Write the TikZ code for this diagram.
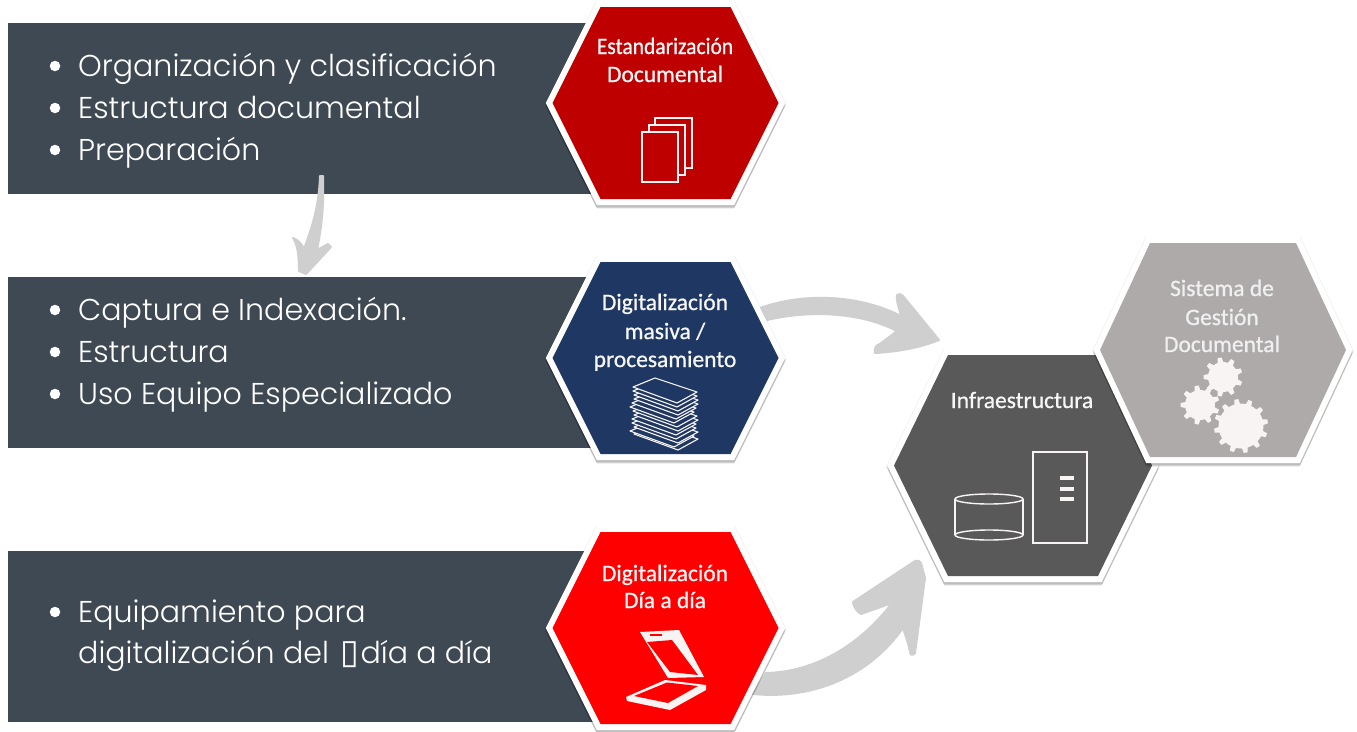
\documentclass[tikz,border=0pt]{standalone}
\usepackage{fontspec}
\setmainfont{Carlito}[Ligatures=NoCommon]
\newfontfamily\hexfont{Carlito}[FakeBold=0.8,Ligatures=NoCommon]
\newfontfamily\listfont{Poppins Light}
\newfontfamily\symfont{DejaVu Sans}
\usetikzlibrary{calc}
\definecolor{slate}{HTML}{3F4954}
\definecolor{arrowgray}{HTML}{CFCFCF}
\definecolor{darkred}{HTML}{BF0000}
\definecolor{navy}{HTML}{1F3763}
\definecolor{purered}{HTML}{FF0000}
\definecolor{coal}{HTML}{595959}
\definecolor{stone}{HTML}{AEAAAA}
\definecolor{iconwhite}{HTML}{F8F4F4}
\tikzset{
  x=1pt,y=-1pt,
  panel/.style={fill=slate,draw=none},
  listtext/.style={anchor=base west,inner sep=0pt,text=white,font=\listfont\fontsize{30.1}{31}\selectfont},
  bulletdot/.style={circle,fill=white,draw=none,inner sep=0pt,minimum size=10.5pt},
  hexlabel/.style={anchor=base,inner sep=0pt,text=white!94!gray,font=\hexfont\fontsize{23.5}{26}\selectfont},
  bigarrow/.style={fill=arrowgray,draw=arrowgray,line width=2pt,line join=round},
  icon/.style={draw=iconwhite,line width=1.4pt,line join=miter},
}
% #1 name, #2 cx, #3 cy, #4 half width, #5 half top width, #6 half height, #7 colour
\newcommand{\hexagon}[7]{%
  \coordinate (#1) at (#2,#3);
  \def\hexpath{($(#1)+(-#4,0)$) -- ($(#1)+(-#5,-#6)$) -- ($(#1)+(#5,-#6)$) -- ($(#1)+(#4,0)$) -- ($(#1)+(#5,#6)$) -- ($(#1)+(-#5,#6)$) -- cycle}
  \foreach \o/\w in {1/14,2/13,3/12,4/11}{
    \draw[black,opacity=.07,line width=\w pt,line join=miter,transform canvas={yshift=-\o pt}] \hexpath;
  }
  \draw[white,line width=12pt,line join=miter] \hexpath;
  \fill[#7] \hexpath;
}
\newcommand{\gearshape}[4]{% cx cy r teeth
  \fill[iconwhite] (#1,#2) circle[radius=#3];
  \foreach \k in {1,...,#4}{
    \pgfmathsetmacro{\ang}{360*\k/#4+10}
    \fill[iconwhite,rotate around={\ang:(#1,#2)},line join=round] ($(#1,#2)+(-3,-#3+1)$) -- ($(#1,#2)+(-2,-#3-4.5)$) -- ($(#1,#2)+(2,-#3-4.5)$) -- ($(#1,#2)+(3,-#3+1)$) -- cycle;
  }
}
\begin{document}
\begin{tikzpicture}
\useasboundingbox (0,0) rectangle (1357,731);
\fill[white] (0,0) rectangle (1357,731);

% panels
\fill[panel] (8,23) rectangle (600,194);
\fill[panel] (8,277) rectangle (600,448);
\fill[panel] (8,551) rectangle (600,722);

% list text
\node[bulletdot] (b1) at (55,66) {};
\node[listtext] (t1) at (78,76) {Organización y clasificación};
\node[bulletdot] (b2) at (55,108) {};
\node[listtext] (t2) at (78,118) {Estructura documental};
\node[bulletdot] (b3) at (55,150) {};
\node[listtext] (t3) at (78,160) {Preparación};
\node[bulletdot] (b4) at (55,310) {};
\node[listtext] (t4) at (78,320) {Captura e Indexación.};
\node[bulletdot] (b5) at (55,352) {};
\node[listtext] (t5) at (78,362) {Estructura};
\node[bulletdot] (b6) at (55,394) {};
\node[listtext] (t6) at (78,404) {Uso Equipo Especializado};
\node[bulletdot] (b7) at (55,612) {};
\node[listtext] (t7) at (78,622) {Equipamiento para};
\node[listtext] (t8) at (78,663) {digitalización del\hspace{12pt}{\symfont\fontsize{34}{34}\selectfont ▯}\hspace{1pt}día a día};

% arrows
\coordinate (a3s) at (321.5,176);
\coordinate (a3t) at (306,274);
\fill[bigarrow] (320,176) -- (323,176) .. controls (324,205) and (322,225) .. (317,250)
  -- (328,244) -- (331,247) -- (a3t) -- (299,271)
  .. controls (299,258) and (298,245) .. (293,238)
  .. controls (298,240) and (302,244) .. (304,249)
  .. controls (313,225) and (319,205) .. (320,176) -- cycle;

\coordinate (a1s) at (762,313);
\coordinate (a1t) at (939,340);
\fill[bigarrow] (760,308) .. controls (805,292) and (860,295) .. (901,316)
  .. controls (899,308) and (896,300) .. (897,295)
  .. controls (899,293) and (901,294) .. (903,296)
  -- (a1t) .. controls (920,348) and (895,352) .. (875,353)
  .. controls (874,348) and (876,345) .. (880,344)
  -- (897,331) .. controls (860,312) and (810,310) .. (767,320) -- cycle;

\coordinate (a2s) at (760,684);
\coordinate (a2t) at (925,578);
\fill[bigarrow] (766,673) .. controls (815,672) and (860,645) .. (892,603)
  -- (861,614) .. controls (857,612) and (853,606) .. (853,602)
  -- (915,561) .. controls (918,560) and (920,561) .. (921,563)
  -- (a2t) -- (915,653) .. controls (913,656) and (910,655) .. (910,652)
  .. controls (908,642) and (905,634) .. (903,628)
  .. controls (870,675) and (815,700) .. (753,694) -- cycle;

% hexagons
\hexagon{hexinfra}{1023}{465.5}{129}{75}{110.5}{coal}
\hexagon{hexsgd}{1223}{350}{123}{73}{107}{stone}
\hexagon{hexest}{665.5}{103}{113}{65}{96}{darkred}
\hexagon{hexmas}{665.5}{358}{113}{65}{96}{navy}
\hexagon{hexdia}{665.5}{628}{113}{65}{96}{purered}

% hexagon labels
\node[hexlabel] (l1) at (665,54) {\scalebox{.915}[1]{Estandarización}};
\node[hexlabel] (l2) at (665,82) {Documental};
\node[hexlabel] (l3) at (665,310) {Digitalización};
\node[hexlabel] (l4) at (665,339) {masiva /};
\node[hexlabel] (l5) at (665,367) {procesamiento};
\node[hexlabel] (l6) at (665,581) {Digitalización};
\node[hexlabel] (l7) at (665,608) {Día a día};
\node[hexlabel] (l8) at (1022,408) {Infraestructura};
\node[hexlabel,text=white!88!gray] (l9) at (1222,296) {Sistema de};
\node[hexlabel,text=white!88!gray] (l10) at (1222,325) {Gestión};
\node[hexlabel,text=white!88!gray] (l11) at (1222,352) {Documental};

% document icon
\draw[icon,fill=darkred] (655,118) rectangle (692,168);
\draw[icon,fill=darkred] (649,125) rectangle (685,175);
\draw[icon,fill=darkred] (642,132) rectangle (678,182);

% paper stack icon
\foreach \dx/\dy in {1/47,-3/44,1/40,-1/36,-1/32,1/28,0/24,-3/20,-1/16,1/12,1/8,0/4,0/0}{
  \draw[draw=iconwhite,line width=1.1pt,fill=navy,line join=round,shift={(\dx,\dy)}]
    (633,387) -- (655,378) -- (697,392) -- (677,403) -- cycle;
}

% scanner icon
\fill[iconwhite] (640,632) -- (679,630) -- (704,677) -- (668,678) -- cycle;
\fill[purered] (647,642) -- (672,640) -- (698,675) -- (670,672) -- cycle;
\fill[purered] (650,634) -- (662,634) -- (662,636) -- (650,636) -- cycle;
\fill[iconwhite] (626,697) -- (665,680) -- (706,685) -- (706,690) -- (670,710) -- (627,701) -- cycle;
\fill[purered] (634,696) -- (667,682.5) -- (698,686) -- (668,703) -- cycle;

% infrastructure icons
\draw[icon] (955,499) -- (955,535);
\draw[icon] (1023,499) -- (1023,535);
\draw[icon] (989,499) ellipse[x radius=34,y radius=5];
\draw[icon] (989,535) ellipse[x radius=34,y radius=5];
\draw[icon] (1033,452) rectangle (1087,543);
\fill[iconwhite] (1060,476) rectangle (1074,479.5);
\fill[iconwhite] (1060,487) rectangle (1074,490.5);
\fill[iconwhite] (1060,497) rectangle (1074,500.5);

% gears
\gearshape{1223}{377}{15}{9}
\gearshape{1200}{405}{15}{9}
\gearshape{1241}{426}{22.5}{12}
\end{tikzpicture}
\end{document}
